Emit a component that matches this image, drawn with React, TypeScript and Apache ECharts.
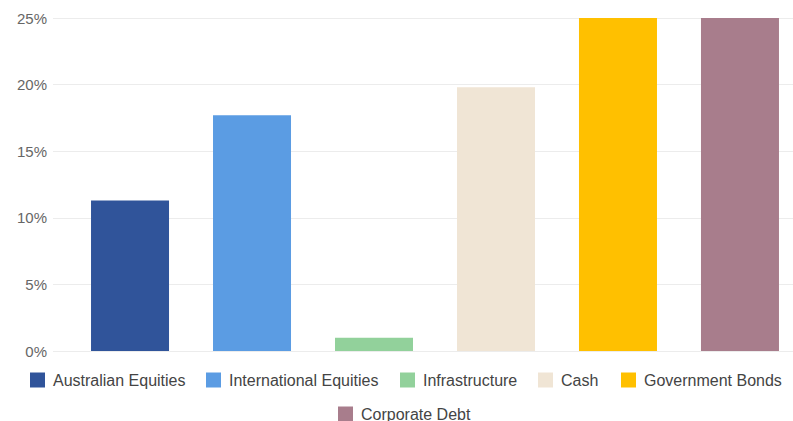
import React, { useEffect, useRef } from "react";
import * as echarts from "echarts";

const seriesNames = [
  "Australian Equities",
  "International Equities",
  "Infrastructure",
  "Cash",
  "Government Bonds",
  "Corporate Debt",
];
const seriesValues = [11.3, 17.7, 1.0, 19.8, 25, 25];
const seriesColors = ["#30549a", "#5b9ce3", "#92d19b", "#f0e5d5", "#ffc000", "#a87d8c"];
const yTicks = { min: 0, max: 25, interval: 5 };

// legend item placement (icon left, top) — layout only
const legendPos: [number, number][] = [
  [30, 372],
  [206, 372],
  [400, 372],
  [538, 372],
  [621, 372],
  [338, 406],
];

export default function App() {
  const ref = useRef<HTMLDivElement>(null);
  useEffect(() => {
    if (!ref.current) return;
    const chart = echarts.init(ref.current, undefined, { renderer: "svg" });
    const font = "'Liberation Sans', Arial, sans-serif";
    chart.setOption({
      animation: false,
      textStyle: { fontFamily: font },
      grid: [
        { left: 53, right: 0, top: 18, bottom: 70, containLabel: false },
        { left: 77, right: 0, top: 18, bottom: 70, containLabel: false },
      ],
      xAxis: [
        { type: "category", data: [""], show: false, gridIndex: 0 },
        { type: "category", data: [""], show: false, gridIndex: 1 },
      ],
      yAxis: [
        {
          type: "value",
          gridIndex: 0,
          min: yTicks.min,
          max: yTicks.max,
          interval: yTicks.interval,
          axisLine: { show: false },
          axisTick: { show: false },
          axisLabel: {
            formatter: "{value}%",
            color: "#666",
            fontSize: 15,
            fontFamily: font,
            margin: 6,
          },
          splitLine: { lineStyle: { color: "#ececec", width: 1 } },
        },
        {
          type: "value",
          gridIndex: 1,
          min: yTicks.min,
          max: yTicks.max,
          interval: yTicks.interval,
          show: false,
          splitLine: { show: false },
        },
      ],
      legend: seriesNames.map((name, i) => ({
        data: [name],
        left: legendPos[i][0],
        top: legendPos[i][1],
        padding: 0,
        itemWidth: 15,
        itemHeight: 15,
        icon: "rect",
        textStyle: {
          color: "#444",
          fontSize: 16,
          fontFamily: font,
          padding: [0, 0, 0, 3],
        },
      })),
      series: seriesNames.map((name, i) => ({
        name,
        type: "bar",
        xAxisIndex: 1,
        yAxisIndex: 1,
        data: [seriesValues[i]],
        barWidth: 78,
        barGap: "56.4%",
        itemStyle: { color: seriesColors[i] },
      })),
    });
    return () => chart.dispose();
  }, []);
  return <div ref={ref} style={{ width: 793, height: 421, position: "absolute", left: 0, top: 0 }} />;
}
